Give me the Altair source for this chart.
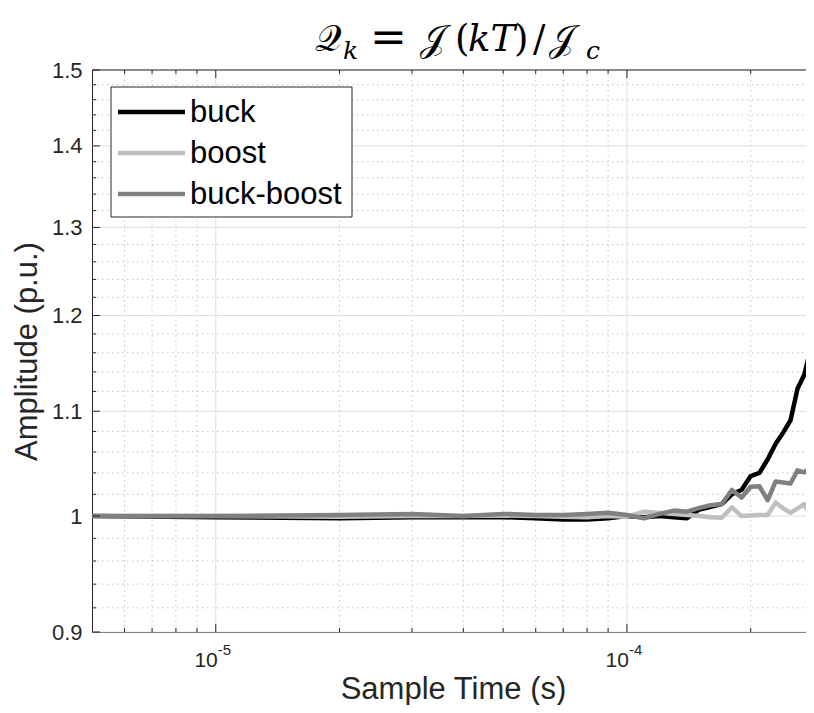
import math
import altair as alt
import pandas as pd

# ---------------- data ----------------
sample_time_us = [5, 10, 20, 30, 40, 50, 60, 70, 80, 90, 100, 110, 120, 130, 140,
                  150, 160, 170, 180, 190, 200, 210, 220, 230, 240, 250, 260, 270, 280]
buck = [1.000, 0.999, 0.998, 0.999, 0.999, 0.999, 0.998, 0.997, 0.997, 0.998,
        1.000, 0.999, 1.000, 0.999, 0.998, 1.006, 1.0085, 1.011, 1.020, 1.024,
        1.037, 1.040, 1.053, 1.068, 1.079, 1.091, 1.123, 1.137, 1.165]
boost = [1.000, 1.000, 0.9995, 1.000, 1.000, 1.0005, 1.000, 0.9995, 0.999, 1.000,
         0.9995, 1.004, 1.003, 1.002, 1.001, 1.000, 0.999, 0.9985, 1.008, 1.000,
         1.0005, 1.001, 1.001, 1.0125, 1.007, 1.003, 1.007, 1.011, 1.000]
buck_boost = [1.000, 1.000, 1.001, 1.002, 1.000, 1.002, 1.001, 1.001, 1.002, 1.003,
              1.001, 0.998, 1.002, 1.005, 1.004, 1.0075, 1.010, 1.011, 1.024, 1.017,
              1.027, 1.0275, 1.0145, 1.032, 1.031, 1.030, 1.0425, 1.0405, 1.045]

series_names = ["buck", "boost", "buck-boost"]
series_values = [buck, boost, buck_boost]
series_colors = ["#000000", "#bfbfbf", "#808080"]

x_domain = [5e-6, 2.726e-4]
y_domain = [0.9, 1.5]
x_major_ticks = [1e-5, 1e-4]
x_major_mantissa = ["10", "10"]
x_major_exponent = ["-5", "-4"]
x_minor_ticks = [6e-6, 7e-6, 8e-6, 9e-6, 2e-5, 3e-5, 4e-5, 5e-5, 6e-5, 7e-5, 8e-5, 9e-5, 2e-4]
y_major_ticks = [0.9, 1.0, 1.1, 1.2, 1.3, 1.4, 1.5]
y_major_labels = ["0.9", "1", "1.1", "1.2", "1.3", "1.4", "1.5"]
y_minor_ticks = [0.92, 0.94, 0.96, 0.98, 1.02, 1.04, 1.06, 1.08, 1.12, 1.14, 1.16, 1.18,
                 1.22, 1.24, 1.26, 1.28, 1.32, 1.34, 1.36, 1.38, 1.42, 1.44, 1.46, 1.48]

x_title = "Sample Time (s)"
y_title = "Amplitude (p.u.)"

# ---------------- layout ----------------
W, H = 714, 562
FONT = "Liberation Sans"
AX = "#262626"


def label_expr(values, labels):
    expr = "''"
    for v, lab in reversed(list(zip(values, labels))):
        expr = f"abs(log(datum.value)/LN10 - ({math.log10(v)})) < 0.01 ? '{lab}' : " + expr
    return expr


xs = alt.Scale(type="log", domain=x_domain, nice=False)
ys = alt.Scale(type="log", domain=y_domain, nice=False)

x_axis = alt.Axis(values=x_major_ticks, labels=False,
                  grid=False, ticks=False, tickSize=0, domainColor=AX, domainWidth=1,
                  title=x_title, titleFont=FONT, titleFontSize=31, titleFontWeight="normal",
                  titleColor=AX, titleX=361, titleY=66, titleBaseline="alphabetic",
                  titleAlign="center")
y_axis = alt.Axis(values=y_major_ticks, labelExpr=label_expr(y_major_ticks, y_major_labels),
                  grid=False, ticks=False, tickSize=0, domainColor=AX, domainWidth=1,
                  labelFont=FONT, labelFontSize=22, labelColor=AX, labelPadding=10,
                  title=y_title, titleFont=FONT, titleFontSize=31, titleFontWeight="normal",
                  titleColor=AX, titleX=-65, titleY=H / 2, titleAngle=-90,
                  titleBaseline="middle", titleAlign="center")


def X(field="t"):
    return alt.X(f"{field}:Q", scale=xs, axis=x_axis)


def Y(field="v"):
    return alt.Y(f"{field}:Q", scale=ys, axis=y_axis)


one = pd.DataFrame({"a": [0]})
layers = []

# grid lines
df_xminor = pd.DataFrame({"t": x_minor_ticks})
df_xmajor = pd.DataFrame({"t": x_major_ticks, "m": x_major_mantissa, "e": x_major_exponent})
df_yminor = pd.DataFrame({"v": y_minor_ticks})
df_ymajor = pd.DataFrame({"v": y_major_ticks})

layers.append(alt.Chart(df_xminor).mark_rule(color="#c4c4c4", strokeWidth=1, strokeDash=[1.5, 3.5])
              .encode(x=X(), y=alt.value(0), y2=alt.value(H)))
layers.append(alt.Chart(df_yminor).mark_rule(color="#c4c4c4", strokeWidth=1, strokeDash=[1.5, 3.5])
              .encode(y=Y(), x=alt.value(0), x2=alt.value(W)))
layers.append(alt.Chart(df_xmajor).mark_rule(color="#dedede", strokeWidth=1)
              .encode(x=X(), y=alt.value(0), y2=alt.value(H)))
layers.append(alt.Chart(df_ymajor).mark_rule(color="#dedede", strokeWidth=1)
              .encode(y=Y(), x=alt.value(0), x2=alt.value(W)))

# data lines (plot order: buck, boost, buck-boost)
for name, vals, col in zip(series_names, series_values, series_colors):
    df = pd.DataFrame({"t": [u * 1e-6 for u in sample_time_us], "v": vals, "series": name})
    layers.append(alt.Chart(df).mark_line(color=col, strokeWidth=4.5, clip=True,
                                          strokeJoin="round", strokeCap="butt")
                  .encode(x=X(), y=Y(), order="t:Q"))

# inward ticks (MATLAB style) and box top line
layers.append(alt.Chart(df_ymajor).mark_rule(color=AX, strokeWidth=1)
              .encode(y=Y(), x=alt.value(0), x2=alt.value(8)))
layers.append(alt.Chart(df_yminor).mark_rule(color=AX, strokeWidth=1)
              .encode(y=Y(), x=alt.value(0), x2=alt.value(4)))
for y0, dy_major, dy_minor in [(H, -8, -4), (0, 8, 4)]:
    layers.append(alt.Chart(df_xmajor).mark_rule(color=AX, strokeWidth=1)
                  .encode(x=X(), y=alt.value(y0), y2=alt.value(y0 + dy_major)))
    layers.append(alt.Chart(df_xminor).mark_rule(color=AX, strokeWidth=1)
                  .encode(x=X(), y=alt.value(y0), y2=alt.value(y0 + dy_minor)))
layers.append(alt.Chart(one).mark_rule(color=AX, strokeWidth=1)
              .encode(x=alt.value(0), x2=alt.value(W), y=alt.value(0)))

# x tick labels: 10 with superscript exponent
layers.append(alt.Chart(df_xmajor).mark_text(font=FONT, fontSize=21, color=AX, align="right",
                                             baseline="top", dx=2)
              .encode(x=X(), y=alt.value(H + 18), text="m:N"))
layers.append(alt.Chart(df_xmajor).mark_text(font=FONT, fontSize=15, color=AX, align="left",
                                             baseline="top", dx=2)
              .encode(x=X(), y=alt.value(H + 11), text="e:N"))

# legend box
LX0, LY0, LX1, LY1 = 19, 17, 260, 147
layers.append(alt.Chart(one).mark_rect(fill="white", stroke=AX, strokeWidth=1)
              .encode(x=alt.value(LX0), x2=alt.value(LX1), y=alt.value(LY0), y2=alt.value(LY1)))
for i, (name, col) in enumerate(zip(series_names, series_colors)):
    yy = 42 + i * 41
    layers.append(alt.Chart(one).mark_rule(color=col, strokeWidth=4.5)
                  .encode(x=alt.value(26), x2=alt.value(93), y=alt.value(yy)))
    layers.append(alt.Chart(one).mark_text(text=name, font=FONT, fontSize=31, color="#000000",
                                           align="left", baseline="middle")
                  .encode(x=alt.value(98), y=alt.value(yy + 1)))

# title  Q_k = J(kT)/J_c  built from text pieces
SERIF = "DejaVu Serif"
title_pieces = [
    ("𝒬", 223, -19, 37, "normal"),
    ("k", 251, -11, 25, "italic"),
    ("=", 278, -18, 44, "normal"),
    ("𝒥", 328, -19, 37, "normal"),
    ("(", 363, -19, 37, "normal"),
    ("kT", 376, -19, 37, "italic"),
    (")", 422, -19, 37, "normal"),
    ("/", 441, -19, 37, "normal"),
    ("𝒥", 457, -19, 37, "normal"),
    ("c", 494, -11, 25, "italic"),
]
for txt, px, py, fs, st in title_pieces:
    layers.append(alt.Chart(one).mark_text(text=txt, font=SERIF, fontSize=fs, fontStyle=st,
                                           color="#000000", align="left", baseline="alphabetic")
                  .encode(x=alt.value(px), y=alt.value(py)))

chart = alt.layer(*layers).properties(
    width=W, height=H,
    background="white",
    view=alt.ViewBackground(stroke="transparent", strokeWidth=0),
    autosize=alt.AutoSizeParams(type="none"),
    padding={"left": 84, "top": 62, "right": 0, "bottom": 73},
).configure_view(strokeWidth=0, stroke="transparent")

chart.save("out.html", embed_options={"renderer": "svg", "actions": False})
